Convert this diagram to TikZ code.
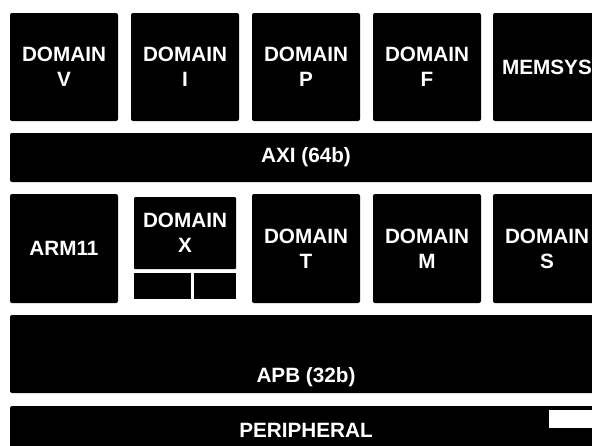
\documentclass[tikz,border=0pt]{standalone}
\usepackage{fontspec}
\setmainfont{Liberation Sans}
\begin{document}
\begin{tikzpicture}[x=1pt,y=-1pt,
  blk/.style={fill=black, rounded corners=2pt, inner sep=0pt, text=white,
    font=\fontsize{20.7}{25}\selectfont\bfseries, align=center},
  sq/.style={blk, minimum width=108pt, minimum height=108pt},
  sq2/.style={blk, minimum width=108pt, minimum height=109pt},
  sub/.style={fill=black, inner sep=0pt, minimum height=26pt},
  lbl/.style={text=white, inner sep=0pt, font=\fontsize{20.7}{25}\selectfont\bfseries, align=center}]
\useasboundingbox (0,0) rectangle (592,445);
\clip (0,0) rectangle (592,445);
% row 1
\node[sq] (dv) at (64,67) {DOMAIN\\V};
\node[sq] (di) at (185,67) {DOMAIN\\I};
\node[sq] (dp) at (306,67) {DOMAIN\\P};
\node[sq] (df) at (427,67) {DOMAIN\\F};
\node[sq] (mem) at (547,67) {MEMSYS};
% AXI
\node[blk, minimum width=592pt, minimum height=49pt] (axi) at (306,157.5) {AXI (64b)};
% row 2
\node[sq2] (arm) at (64,248.5) {ARM11};
\node[blk, rounded corners=1pt, minimum width=102pt, minimum height=72pt] (dx) at (185,233) {DOMAIN\\X};
\node[sub, minimum width=57pt] (dxa) at (162.5,286) {};
\node[sub, minimum width=42pt] (dxb) at (215,286) {};
\node[sq2] (dt) at (306,248.5) {DOMAIN\\T};
\node[sq2] (dm) at (427,248.5) {DOMAIN\\M};
\node[sq2] (ds) at (547,248.5) {DOMAIN\\S};
% APB
\node[blk, minimum width=592pt, minimum height=78pt] (apb) at (306,354) {};
\node[lbl] (apbl) at (306,377) {APB (32b)};
% peripheral
\node[blk, minimum width=592pt, minimum height=48pt] (per) at (306,430) {};
\node[lbl] (perl) at (306,430) {PERIPHERAL};
\node[fill=white, inner sep=0pt, minimum width=52pt, minimum height=18pt] (wr) at (575,419) {};
\end{tikzpicture}
\end{document}
